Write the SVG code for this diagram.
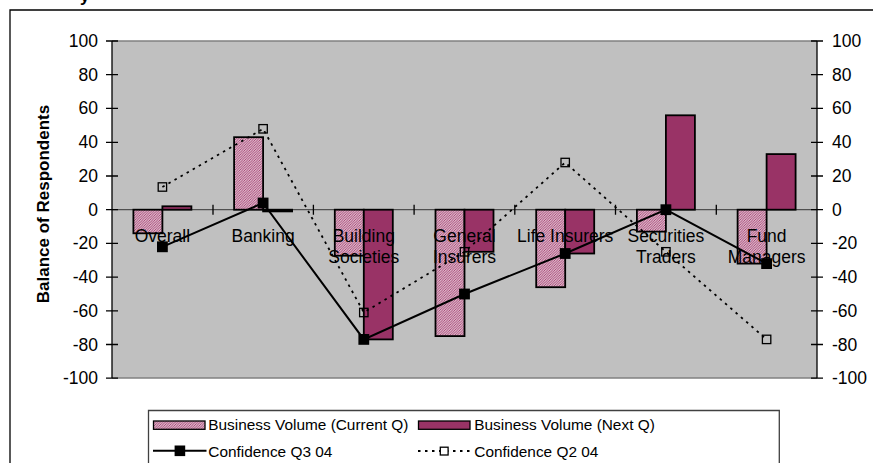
<svg xmlns="http://www.w3.org/2000/svg" width="873" height="463" viewBox="0 0 873 463">
<defs>
<pattern id="hatch" patternUnits="userSpaceOnUse" width="2.5" height="2.5">
<rect width="2.5" height="2.5" fill="#f8e6ee"/>
<path d="M-1,1 L1,-1 M0,2.5 L2.5,0 M1.5,3.5 L3.5,1.5" stroke="#993366" stroke-width="0.9"/>
</pattern>
</defs>
<style>
text{font-family:"Liberation Sans",Arial,sans-serif;fill:#000}
.tick{font-size:17.5px}
.lt{text-anchor:end}
.cat{font-size:17.5px;text-anchor:middle}
.leg{font-size:15.4px}
.cur{fill:url(#hatch);stroke:#000;stroke-width:1.8}
.nxt{fill:#993366;stroke:#000;stroke-width:1.8}
.q3{fill:none;stroke:#000;stroke-width:2}
.q2{fill:none;stroke:#000;stroke-width:1.8;stroke-dasharray:2.5 4.5}
.m3{fill:#000}
.m2{fill:none;stroke:#000;stroke-width:1.3}
.ax{stroke:#000;stroke-width:1.3}
</style>
<rect width="873" height="463" fill="#ffffff"/>
<text x="80" y="1.5" style="font-size:17px;font-weight:bold">y</text>
<path d="M10,463 V10 H873" fill="none" stroke="#000" stroke-width="1.3"/>
<g id="plot">
<rect x="112" y="41" width="705" height="337" fill="#c0c0c0"/>
<line x1="112" y1="41" x2="817" y2="41" stroke="#808080" stroke-width="1.5"/>
<line x1="112" y1="378" x2="817" y2="378" stroke="#808080" stroke-width="1.5"/>
<line x1="112" y1="209.7" x2="817" y2="209.7" stroke="#505050" stroke-width="1.2"/>
<path class="ax" d="M213,204.7V214.7M313.4,204.7V214.7M414.1,204.7V214.7M514.8,204.7V214.7M615.5,204.7V214.7M716.3,204.7V214.7"/>
</g>
<g id="left-axis">
<line class="ax" x1="112" y1="41" x2="112" y2="378"/>
<path class="ax" d="M106,41H118M106,74.7H118M106,108.4H118M106,142.3H118M106,176H118M106,209.7H118M106,243.4H118M106,277.1H118M106,310.8H118M106,344.5H118M106,378.2H118"/>
<g class="tick lt">
<text x="98" y="47">100</text>
<text x="98" y="80.7">80</text>
<text x="98" y="114.4">60</text>
<text x="98" y="148.3">40</text>
<text x="98" y="182">20</text>
<text x="98" y="215.7">0</text>
<text x="98" y="249.4">-20</text>
<text x="98" y="283.1">-40</text>
<text x="98" y="316.8">-60</text>
<text x="98" y="350.5">-80</text>
<text x="98" y="384.2">-100</text>
</g>
<text transform="translate(48.5,204) rotate(-90)" style="font-size:17px;font-weight:bold;text-anchor:middle">Balance of Respondents</text>
</g>
<g id="right-axis">
<line class="ax" x1="817" y1="41" x2="817" y2="378"/>
<path class="ax" d="M811,41H823M811,74.7H823M811,108.4H823M811,142.3H823M811,176H823M811,209.7H823M811,243.4H823M811,277.1H823M811,310.8H823M811,344.5H823M811,378.2H823"/>
<g class="tick">
<text x="832" y="47">100</text>
<text x="832" y="80.7">80</text>
<text x="832" y="114.4">60</text>
<text x="832" y="148.3">40</text>
<text x="832" y="182">20</text>
<text x="832" y="215.7">0</text>
<text x="832" y="249.4">-20</text>
<text x="832" y="283.1">-40</text>
<text x="832" y="316.8">-60</text>
<text x="832" y="350.5">-80</text>
<text x="832" y="384.2">-100</text>
</g>
</g>
<g id="bars-current">
<rect class="cur" x="133.4" y="209.7" width="29" height="23.6"/>
<rect class="cur" x="234.1" y="137.2" width="29" height="72.5"/>
<rect class="cur" x="334.8" y="209.7" width="29" height="46"/>
<rect class="cur" x="435.5" y="209.7" width="29" height="126.4"/>
<rect class="cur" x="536.2" y="209.7" width="29" height="77.5"/>
<rect class="cur" x="636.9" y="209.7" width="29" height="21.9"/>
<rect class="cur" x="737.6" y="209.7" width="29" height="53.9"/>
</g>
<g id="bars-next">
<rect class="nxt" x="162.4" y="206.3" width="29" height="3.4"/>
<rect class="nxt" x="263.1" y="209.7" width="29" height="1.7"/>
<rect class="nxt" x="363.8" y="209.7" width="29" height="129.7"/>
<rect class="nxt" x="464.5" y="209.7" width="29" height="42.1"/>
<rect class="nxt" x="565.2" y="209.7" width="29" height="43.8"/>
<rect class="nxt" x="665.9" y="115.3" width="29" height="94.4"/>
<rect class="nxt" x="766.6" y="154.1" width="29" height="55.6"/>
</g>
<g id="categories" class="cat">
<text x="162.4" y="242">Overall</text>
<text x="263.1" y="242">Banking</text>
<text x="363.8" y="242">Building</text>
<text x="363.8" y="263">Societies</text>
<text x="464.5" y="242">General</text>
<text x="464.5" y="263">Insurers</text>
<text x="565.2" y="242">Life Insurers</text>
<text x="665.9" y="242">Securities</text>
<text x="665.9" y="263">Traders</text>
<text x="766.6" y="242">Fund</text>
<text x="766.6" y="263">Managers</text>
</g>
<g id="connectors">
<polyline class="q2" points="162.4,187 263.1,128.8 363.8,312.5 464.5,251.8 565.2,162.5 665.9,251.8 766.6,339.4"/>
<polyline class="q3" points="162.4,246.8 263.1,203 363.8,339.4 464.5,294 565.2,253.5 665.9,209.7 766.6,263.6"/>
</g>
<g id="markers-q2">
<rect class="m2" x="158.2" y="182.8" width="8.4" height="8.4"/>
<rect class="m2" x="258.9" y="124.6" width="8.4" height="8.4"/>
<rect class="m2" x="359.6" y="308.3" width="8.4" height="8.4"/>
<rect class="m2" x="460.3" y="247.6" width="8.4" height="8.4"/>
<rect class="m2" x="561" y="158.3" width="8.4" height="8.4"/>
<rect class="m2" x="661.7" y="247.6" width="8.4" height="8.4"/>
<rect class="m2" x="762.4" y="335.2" width="8.4" height="8.4"/>
</g>
<g id="markers-q3">
<rect class="m3" x="157" y="241.4" width="10.8" height="10.8"/>
<rect class="m3" x="257.7" y="197.6" width="10.8" height="10.8"/>
<rect class="m3" x="358.4" y="334" width="10.8" height="10.8"/>
<rect class="m3" x="459.1" y="288.6" width="10.8" height="10.8"/>
<rect class="m3" x="559.8" y="248.1" width="10.8" height="10.8"/>
<rect class="m3" x="660.5" y="204.3" width="10.8" height="10.8"/>
<rect class="m3" x="761.2" y="258.2" width="10.8" height="10.8"/>
</g>
<g id="legend">
<path d="M148.5,463V410.5H779.3V463" fill="#fff" stroke="#404040" stroke-width="1.3"/>
<rect class="cur" x="153.5" y="421" width="51.5" height="8.3" style="stroke-width:1.3"/>
<text class="leg" x="208.3" y="429.5">Business Volume (Current Q)</text>
<rect class="nxt" x="418.5" y="421" width="51.5" height="8.3" style="stroke-width:1.3"/>
<text class="leg" x="474.3" y="429.5">Business Volume (Next Q)</text>
<line class="q3" x1="153" y1="450.8" x2="206.5" y2="450.8"/>
<rect class="m3" x="174.6" y="445.5" width="10.6" height="10.6"/>
<text class="leg" x="208.3" y="456.8">Confidence Q3 04</text>
<line class="q2" x1="418" y1="451" x2="473" y2="451"/>
<rect class="m2" x="440.3" y="447.2" width="7.8" height="7.8" style="fill:#fff"/>
<text class="leg" x="474.3" y="456.8">Confidence Q2 04</text>
</g>
</svg>
